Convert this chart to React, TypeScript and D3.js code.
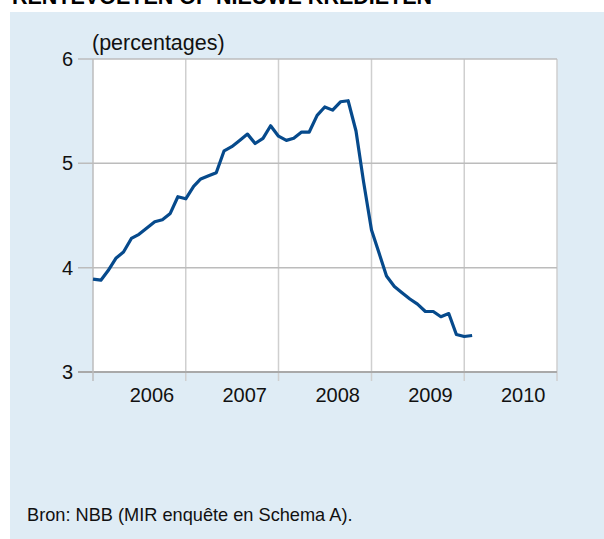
import React from "react";
import * as d3 from "d3";

// maandelijkse rentevoeten, januari 2006 t/m februari 2010
const rates = [
  3.89, 3.88, 3.97, 4.09, 4.15, 4.28, 4.32, 4.38, 4.44, 4.46, 4.52, 4.68,
  4.66, 4.78, 4.85, 4.88, 4.91, 5.12, 5.16, 5.22, 5.28, 5.19, 5.24, 5.36,
  5.26, 5.22, 5.24, 5.3, 5.3, 5.46, 5.54, 5.51, 5.59, 5.6, 5.31, 4.82,
  4.36, 4.13, 3.92, 3.82, 3.76, 3.7, 3.65, 3.58, 3.58, 3.53, 3.56, 3.36,
  3.34, 3.35,
];
const years = [2006, 2007, 2008, 2009, 2010];
const yTicks = [3, 4, 5, 6];

const title = "RENTEVOETEN OP NIEUWE KREDIETEN";
const unit = "(percentages)";
const source = "Bron: NBB (MIR enquête en Schema A).";

const W = 604;
const H = 539;
const plot = { left: 93, right: 557, top: 59, bottom: 372 };
const font = "'Liberation Sans', Arial, sans-serif";

export default function App() {
  const months = d3.timeMonth.range(new Date(2006, 0, 1), new Date(2006, rates.length, 1));
  const x = d3
    .scaleTime()
    .domain([new Date(years[0], 0, 1), new Date(years[years.length - 1] + 1, 0, 1)])
    .range([plot.left, plot.right]);
  const y = d3.scaleLinear().domain([3, 6]).range([plot.bottom, plot.top]);

  const line = d3
    .line<number>()
    .x((_, i) => x(months[i]))
    .y((d) => y(d));

  const bounds = [...years.map((yr) => new Date(yr, 0, 1)), new Date(2011, 0, 1)];

  return (
    <svg
      width={W}
      height={H}
      style={{ position: "absolute", left: 0, top: 0, fontFamily: font }}
    >
      <rect x={0} y={0} width={W} height={H} fill="#fff" />
      {/* titel valt in het origineel half buiten beeld */}
      <text x={12} y={4} fontSize={21.5} fontWeight="bold" fill="#000">
        {title}
      </text>
      <rect x={10} y={12} width={W - 10} height={H - 12} fill="#dfecf5" />
      <rect
        x={plot.left}
        y={plot.top}
        width={plot.right - plot.left}
        height={plot.bottom - plot.top}
        fill="#fff"
      />
      {/* verticale rasterlijnen */}
      {bounds.slice(1).map((d, i) => (
        <line
          key={"v" + i}
          x1={x(d)}
          x2={x(d)}
          y1={plot.top}
          y2={plot.bottom + 9}
          stroke="#cfcfcf"
          strokeWidth={1.5}
        />
      ))}
      {/* horizontale rasterlijnen */}
      {yTicks.map((t) => (
        <line
          key={"h" + t}
          x1={plot.left - 15}
          x2={plot.right}
          y1={y(t)}
          y2={y(t)}
          stroke={t === 3 ? "#a9a9a9" : "#bcbcbc"}
          strokeWidth={t === 3 ? 2 : 1.5}
        />
      ))}
      <line
        x1={plot.left}
        x2={plot.left}
        y1={plot.top}
        y2={plot.bottom + 9}
        stroke="#bcbcbc"
        strokeWidth={1.5}
      />
      {yTicks.map((t) => (
        <text
          key={"yl" + t}
          x={73}
          y={y(t) + 7}
          fontSize={20}
          textAnchor="end"
          fill="#111"
        >
          {t}
        </text>
      ))}
      {years.map((yr) => (
        <text
          key={"xl" + yr}
          x={x(new Date(yr, 6, 1)) + 13}
          y={402}
          fontSize={20}
          textAnchor="middle"
          fill="#111"
        >
          {yr}
        </text>
      ))}
      <text x={92} y={50} fontSize={21.5} fill="#111">
        {unit}
      </text>
      <path
        d={line(rates) ?? ""}
        fill="none"
        stroke="#064a8c"
        strokeWidth={3.2}
        strokeLinejoin="round"
      />
      <text x={27} y={521} fontSize={18.2} fill="#111">
        {source}
      </text>
    </svg>
  );
}
